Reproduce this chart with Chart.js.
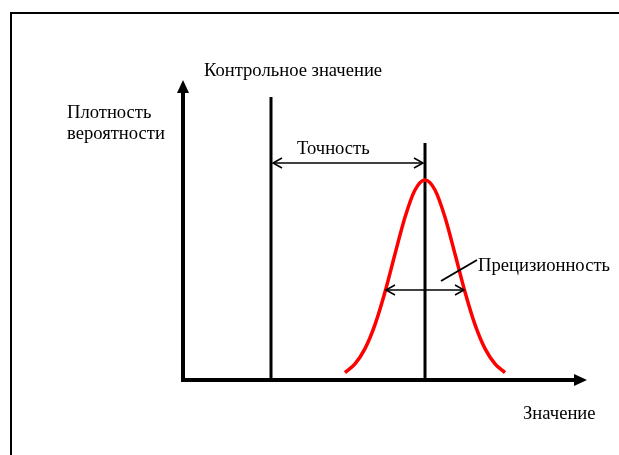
<!DOCTYPE html>
<html>
<head>
<meta charset="utf-8">
<script src="https://cdn.jsdelivr.net/npm/chart.js@4/dist/chart.umd.min.js"></script>
<style>
  html, body { margin: 0; padding: 0; background: #fff; }
  #wrap { width: 619px; height: 455px; }
</style>
</head>
<body>
<div id="wrap"><canvas id="chart" width="619" height="455"></canvas></div>
<script>
// Values (x: value, y: probability density)
const curveX = [4.05, 4.3, 4.55, 4.8, 5.05, 5.3, 5.55, 5.8, 6.05, 6.3, 6.55, 6.8, 7.05, 7.3, 7.55, 7.8, 8.05];
const curveY = [0.037, 0.081, 0.157, 0.277, 0.44, 0.63, 0.814, 0.95, 1.0, 0.95, 0.814, 0.63, 0.44, 0.277, 0.157, 0.081, 0.037];
const referenceValue = 2.2;
const referenceTop = 1.415;
const meanValue = 6.05;
const meanTop = 1.185;
const accuracyLevel = 1.085;
const precisionLevel = 0.45;
const precisionFrom = 5.075;
const precisionTo = 7.025;

const labels = {
    reference: 'Контрольное значение',
    yTitle: ['Плотность', 'вероятности'],
    xTitle: 'Значение',
    accuracy: 'Точность',
    precision: 'Прецизионность'
};

const FONT = '18.6px "Liberation Serif", "Times New Roman", serif';

function openArrow(ctx, x, y, dir) {
    // dir: 1 points right, -1 points left
    ctx.beginPath();
    ctx.moveTo(x - dir * 9, y - 5);
    ctx.lineTo(x, y);
    ctx.lineTo(x - dir * 9, y + 5);
    ctx.stroke();
}

const diagramPlugin = {
    id: 'diagram',
    afterDatasetsDraw(chart) {
        const ctx = chart.ctx;
        const xs = chart.scales.x;
        const ys = chart.scales.y;
        const area = chart.chartArea;
        const x0 = xs.getPixelForValue(0);
        const y0 = ys.getPixelForValue(0);

        ctx.save();

        // outer frame
        ctx.strokeStyle = '#000';
        ctx.lineWidth = 2;
        ctx.beginPath();
        ctx.moveTo(11, chart.height);
        ctx.lineTo(11, 13);
        ctx.lineTo(chart.width, 13);
        ctx.stroke();

        // axes
        ctx.lineWidth = 4;
        ctx.beginPath();
        ctx.moveTo(x0, area.top + 10);
        ctx.lineTo(x0, y0);
        ctx.lineTo(area.right, y0);
        ctx.stroke();
        ctx.fillStyle = '#000';
        ctx.beginPath();
        ctx.moveTo(x0, area.top);
        ctx.lineTo(x0 - 6, area.top + 13);
        ctx.lineTo(x0 + 6, area.top + 13);
        ctx.closePath();
        ctx.fill();
        ctx.beginPath();
        ctx.moveTo(area.right + 4, y0);
        ctx.lineTo(area.right - 9, y0 - 6);
        ctx.lineTo(area.right - 9, y0 + 6);
        ctx.closePath();
        ctx.fill();

        // accuracy arrow
        ctx.lineWidth = 1.5;
        const ay = ys.getPixelForValue(accuracyLevel);
        const ax1 = xs.getPixelForValue(referenceValue) + 2;
        const ax2 = xs.getPixelForValue(meanValue) - 2;
        ctx.beginPath();
        ctx.moveTo(ax1, ay);
        ctx.lineTo(ax2, ay);
        ctx.stroke();
        openArrow(ctx, ax1, ay, -1);
        openArrow(ctx, ax2, ay, 1);

        // precision arrow
        const py = ys.getPixelForValue(precisionLevel);
        const px1 = xs.getPixelForValue(precisionFrom);
        const px2 = xs.getPixelForValue(precisionTo);
        ctx.beginPath();
        ctx.moveTo(px1, py);
        ctx.lineTo(px2, py);
        ctx.stroke();
        openArrow(ctx, px1, py, -1);
        openArrow(ctx, px2, py, 1);

        // leader line to precision label
        ctx.lineWidth = 2;
        ctx.beginPath();
        ctx.moveTo(px2 - 23, py - 9);
        ctx.lineTo(px2 + 13, py - 30);
        ctx.stroke();

        // texts
        ctx.font = FONT;
        ctx.fillStyle = '#000';
        ctx.textBaseline = 'alphabetic';
        ctx.textAlign = 'left';
        ctx.fillText(labels.reference, 204, 76);
        ctx.fillText(labels.yTitle[0], 67, 118);
        ctx.fillText(labels.yTitle[1], 67, 138.5);
        ctx.fillText(labels.precision, px2 + 14, 271);
        ctx.fillText(labels.xTitle, 523, 419);
        ctx.fillText(labels.accuracy, 297, 154);

        ctx.restore();
    }
};

new Chart(document.getElementById('chart'), {
    type: 'line',
    data: {
        datasets: [
            {
                data: curveX.map((x, i) => ({ x: x, y: curveY[i] })),
                borderColor: '#ff0000',
                borderWidth: 3.5,
                pointRadius: 0,
                tension: 0.4,
                cubicInterpolationMode: 'monotone',
                fill: false
            },
            {
                data: [{ x: referenceValue, y: 0 }, { x: referenceValue, y: referenceTop }],
                borderColor: '#000',
                borderWidth: 3,
                pointRadius: 0
            },
            {
                data: [{ x: meanValue, y: 0 }, { x: meanValue, y: meanTop }],
                borderColor: '#000',
                borderWidth: 3,
                pointRadius: 0
            }
        ]
    },
    options: {
        responsive: false,
        animation: false,
        layout: { padding: { left: 183, right: 36, top: 80, bottom: 75 } },
        plugins: { legend: { display: false }, tooltip: { enabled: false } },
        scales: {
            x: { type: 'linear', min: 0, max: 10, display: false },
            y: { min: 0, max: 1.5, display: false }
        }
    },
    plugins: [diagramPlugin]
});
</script>
</body>
</html>
